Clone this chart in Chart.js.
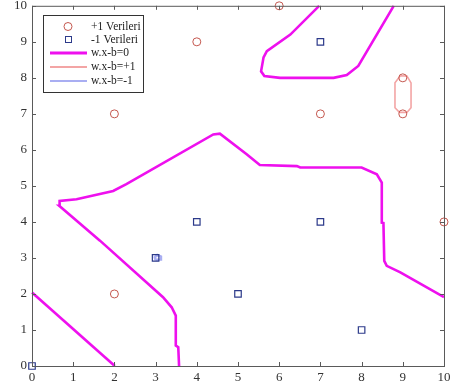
<!DOCTYPE html>
<html>
<head>
<meta charset="utf-8">
<script src="https://cdn.jsdelivr.net/npm/chart.js@4"></script>
<style>
  html, body { margin: 0; padding: 0; background: #fff; }
  #wrap { width: 454px; height: 392px; }
</style>
</head>
<body>
<div id="wrap"><canvas id="svmChart" width="454" height="392"></canvas></div>
<script>
// data points
const plusX = [6, 4, 2, 7, 9, 9, 10, 2];
const plusY = [10, 9, 7, 7, 8, 7, 4, 2];
const minusX = [7, 4, 7, 3, 5, 8, 0];
const minusY = [9, 4, 4, 3, 2, 1, 0];

// w.x-b=0 contour pieces
const topLoop = [[6.97,10],[6.27,9.2],[5.70,8.74],[5.62,8.57],[5.56,8.18],[5.64,8.05],[6.02,8.0],
  [7.32,8.0],[7.64,8.08],[7.92,8.33],[8.78,10]];
const midCurve = [[3.57,0],[3.55,0.52],[3.49,0.57],[3.49,1.40],[3.39,1.63],[3.18,1.91],[1.65,3.48],
  [0.66,4.45],[0.67,4.58],[1.08,4.63],[1.97,4.86],[2.29,5.05],[4.40,6.43],[4.56,6.45],[5.21,5.88],
  [5.53,5.58],[6.43,5.55],[6.51,5.51],[8.0,5.51],[8.37,5.32],[8.49,5.09],[8.49,3.98],[8.53,3.97],
  [8.55,2.92],[8.61,2.78],[8.94,2.60],[10,1.91]];
const cornerLine = [[0,2.04],[2.01,0]];
// w.x-b=+1 and -1 contours
const plusLoop = [[8.94,8.06],[9.10,8.05],[9.20,7.86],[9.20,7.17],[9.10,7.04],[8.92,7.04],[8.81,7.17],
  [8.81,7.86],[8.94,8.06]];
const minusLoop = [[3.0,2.94],[3.11,2.96],[3.13,3.04],[3.04,3.08],[2.98,3.02],[3.0,2.94]];

const tickVals = [0, 1, 2, 3, 4, 5, 6, 7, 8, 9, 10];
const legendLabels = ['+1 Verileri', '-1 Verileri', 'w.x-b=0', 'w.x-b=+1', 'w.x-b=-1'];

const RED = '#c4574e';
const BLUE = '#2c3a8a';
const MAGENTA = '#ee10ee';
const PINK = '#f3a5a5';
const LIGHTBLUE = '#a9aef2';

const toXY = arr => arr.map(p => ({ x: p[0], y: p[1] }));
const zip = (xs, ys) => xs.map((x, i) => ({ x: x, y: ys[i] }));

function lineSet(data, color, width) {
    return {
        data: toXY(data), showLine: true, borderColor: color, borderWidth: width,
        pointRadius: 0, fill: false, tension: 0, order: 2
    };
}

// frame, inward ticks and legend box
const framePlugin = {
    id: 'frame',
    afterDraw(chart) {
        const ctx = chart.ctx;
        const a = chart.chartArea;
        const xs = chart.scales.x, ys = chart.scales.y;
        ctx.save();
        ctx.strokeStyle = '#5a5a5a';
        ctx.lineWidth = 1;
        ctx.strokeRect(a.left + 0.5, a.top + 0.5, a.right - a.left, a.bottom - a.top);
        ctx.beginPath();
        tickVals.forEach(v => {
            const px = Math.round(xs.getPixelForValue(v)) + 0.5;
            ctx.moveTo(px, a.bottom); ctx.lineTo(px, a.bottom - 4);
            ctx.moveTo(px, a.top); ctx.lineTo(px, a.top + 4);
            const py = Math.round(ys.getPixelForValue(v)) + 0.5;
            ctx.moveTo(a.left, py); ctx.lineTo(a.left + 4, py);
            ctx.moveTo(a.right, py); ctx.lineTo(a.right - 4, py);
        });
        ctx.stroke();

        // legend
        const lx = 43, ly = 15, lw = 100, lh = 77;
        ctx.fillStyle = '#fff';
        ctx.fillRect(lx, ly, lw, lh);
        ctx.strokeStyle = '#333';
        ctx.strokeRect(lx + 0.5, ly + 0.5, lw, lh);
        const rowY = [26.5, 39.5, 53, 67, 81];
        ctx.font = "11.5px 'Liberation Serif', serif";
        ctx.textBaseline = 'middle';
        ctx.fillStyle = '#222';
        legendLabels.forEach((t, i) => {
            const y = rowY[i];
            if (i === 0) {
                ctx.beginPath(); ctx.strokeStyle = RED; ctx.lineWidth = 1;
                ctx.arc(68, y, 4, 0, Math.PI * 2); ctx.stroke();
            } else if (i === 1) {
                ctx.strokeStyle = BLUE; ctx.lineWidth = 1;
                ctx.strokeRect(65.5, y - 3, 6, 6);
            } else {
                const cols = [MAGENTA, PINK, LIGHTBLUE];
                const wid = [3, 2, 2];
                ctx.beginPath(); ctx.strokeStyle = cols[i - 2]; ctx.lineWidth = wid[i - 2];
                ctx.moveTo(50, y); ctx.lineTo(87, y); ctx.stroke();
            }
            ctx.fillStyle = '#222';
            ctx.fillText(t, 91, y);
        });
        ctx.restore();
    }
};

const ctx = document.getElementById('svmChart').getContext('2d');
new Chart(ctx, {
    type: 'scatter',
    data: {
        datasets: [
            { data: zip(plusX, plusY), pointStyle: 'circle', pointRadius: 4, borderColor: RED,
              backgroundColor: 'rgba(0,0,0,0)', borderWidth: 1, order: 0 },
            { data: zip(minusX, minusY), pointStyle: 'rect', pointRadius: 4.6, borderColor: BLUE,
              backgroundColor: 'rgba(0,0,0,0)', borderWidth: 1.2, order: 0 },
            lineSet(topLoop, MAGENTA, 2.6),
            lineSet(midCurve, MAGENTA, 2.6),
            lineSet(cornerLine, MAGENTA, 2.6),
            lineSet(plusLoop, PINK, 1.6),
            lineSet(minusLoop, LIGHTBLUE, 2.5)
        ]
    },
    options: {
        responsive: false,
        animation: false,
        clip: false,
        layout: { padding: { top: 5, right: 10, left: 0, bottom: 0 } },
        plugins: { legend: { display: false }, tooltip: { enabled: false } },
        scales: {
            x: {
                type: 'linear', min: 0, max: 10,
                grid: { display: false, drawTicks: false }, border: { display: false },
                ticks: { stepSize: 1, padding: 4, color: '#333', maxRotation: 0,
                         font: { family: "'Liberation Serif', serif", size: 13 } },
                afterFit(s) { s.height = 26; s.paddingLeft = 0; s.paddingRight = 0; }
            },
            y: {
                type: 'linear', min: 0, max: 10,
                grid: { display: false, drawTicks: false }, border: { display: false },
                ticks: { stepSize: 1, padding: 5, color: '#333',
                         font: { family: "'Liberation Serif', serif", size: 13 } },
                afterFit(s) { s.width = 32; s.paddingTop = 0; s.paddingBottom = 0; }
            }
        }
    },
    plugins: [framePlugin]
});
</script>
</body>
</html>
